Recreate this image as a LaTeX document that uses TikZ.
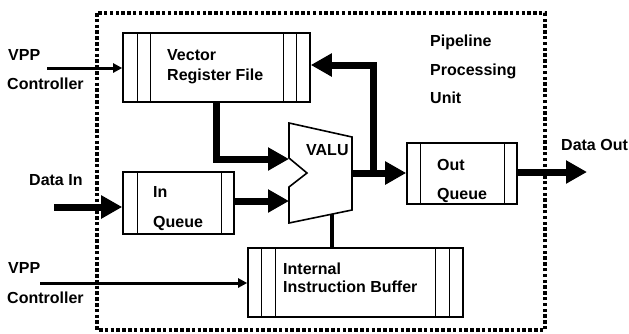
\documentclass[tikz,border=0pt]{standalone}
\usepackage{fontspec}
\setmainfont{Liberation Sans}
\usetikzlibrary{arrows.meta}

\begin{document}
\begin{tikzpicture}[x=1pt,y=-1pt,
	lbl/.style={anchor=base west,inner sep=0pt,font=\fontsize{16}{18}\selectfont\bfseries},
	box/.style={draw,line width=1.6pt,inner sep=0pt,fill=white},
	thinarr/.style={line width=3pt,-{Triangle[length=9pt,width=9pt]}},
	fatarr/.style={line width=7pt,-{Triangle[length=21pt,width=22pt]}}]

	\useasboundingbox (0,0) rectangle (629,333);

	% pipeline processing unit
	\draw [line width=3.5pt,dash pattern=on 3.5pt off 2.3pt] (97,13) rectangle (545,330);

	\node [box,minimum width=187pt,minimum height=69pt] (vrf) at (216.5,67.5) {};
	\node [box,minimum width=111pt,minimum height=62pt] (inq) at (178.5,203) {};
	\node [box,minimum width=110pt,minimum height=61pt] (outq) at (462,173.5) {};
	\node [box,minimum width=215pt,minimum height=69pt] (iib) at (355.5,282.5) {};

	\foreach \dx in {15,28}
		\draw [line width=1pt] ([xshift=\dx pt]vrf.north west) -- ([xshift=\dx pt]vrf.south west);
	\foreach \dx in {14,27}
		\draw [line width=1pt] ([xshift=-\dx pt]vrf.north east) -- ([xshift=-\dx pt]vrf.south east);
	\draw [line width=1pt] ([xshift=15pt]inq.north west) -- ([xshift=15pt]inq.south west);
	\draw [line width=1pt] ([xshift=-13pt]inq.north east) -- ([xshift=-13pt]inq.south east);
	\draw [line width=1pt] ([xshift=14pt]outq.north west) -- ([xshift=14pt]outq.south west);
	\draw [line width=1pt] ([xshift=-13pt]outq.north east) -- ([xshift=-13pt]outq.south east);
	\foreach \dx in {14,28}{
		\draw [line width=1pt] ([xshift=\dx pt]iib.north west) -- ([xshift=\dx pt]iib.south west);
		\draw [line width=1pt] ([xshift=-\dx pt]iib.north east) -- ([xshift=-\dx pt]iib.south east);
	}

	% valu
	\draw [line width=1.6pt,fill=white] (289,123) -- (352,137) -- (352,210) -- (289,223)
		-- (289,187) -- (307,173) -- (289,158) -- cycle;
	\coordinate (aluina) at (289,159);
	\coordinate (aluinb) at (289,201);
	\coordinate (aluout) at (352,173);
	\coordinate (alubot) at (332,214);
	\coordinate (fbtop) at (373,65);
	\coordinate (din) at (54,207);
	\coordinate (dout) at (587,172);
	\coordinate (vppa) at (47,68);
	\coordinate (vppb) at (40,283);

	\draw [fatarr] (vrf.south) |- (aluina);
	\draw [fatarr] (inq.east |- aluinb) -- (aluinb);
	\draw [fatarr] (aluout) -- (outq.west |- aluout);
	\draw [fatarr] (fbtop |- aluout) |- (vrf.east |- fbtop);
	\draw [fatarr] (din) -- (inq.west |- din);
	\draw [fatarr] (outq.east |- dout) -- (dout);
	\draw [thinarr] (vppa) -- (vrf.west |- vppa);
	\draw [thinarr] (vppb) -- (iib.west |- vppb);
	\draw [line width=3.2pt] (iib.north -| alubot) -- (alubot);

	\node [lbl] (vpptxta) at (8,60) {VPP};
	\node [lbl] (ctltxta) at (7,89) {Controller};
	\node [lbl] (vrftxta) at (167,60) {Vector};
	\node [lbl] (vrftxtb) at (167,80) {Register File};
	\node [lbl] (pputxta) at (430,46) {Pipeline};
	\node [lbl] (pputxtb) at (430,75) {Processing};
	\node [lbl] (pputxtc) at (430,103) {Unit};
	\node [lbl] (valutxt) at (306,155) {VALU};
	\node [lbl] (dintxt) at (29,185) {Data In};
	\node [lbl] (inqtxta) at (153,197) {In};
	\node [lbl] (inqtxtb) at (153,227) {Queue};
	\node [lbl] (outqtxta) at (437,170) {Out};
	\node [lbl] (outqtxtb) at (437,199) {Queue};
	\node [lbl] (douttxt) at (561,150) {Data Out};
	\node [lbl] (vpptxtb) at (8,273) {VPP};
	\node [lbl] (ctltxtb) at (7,303) {Controller};
	\node [lbl] (iibtxta) at (283,274) {Internal};
	\node [lbl] (iibtxtb) at (283,292) {Instruction Buffer};

\end{tikzpicture}
\end{document}
